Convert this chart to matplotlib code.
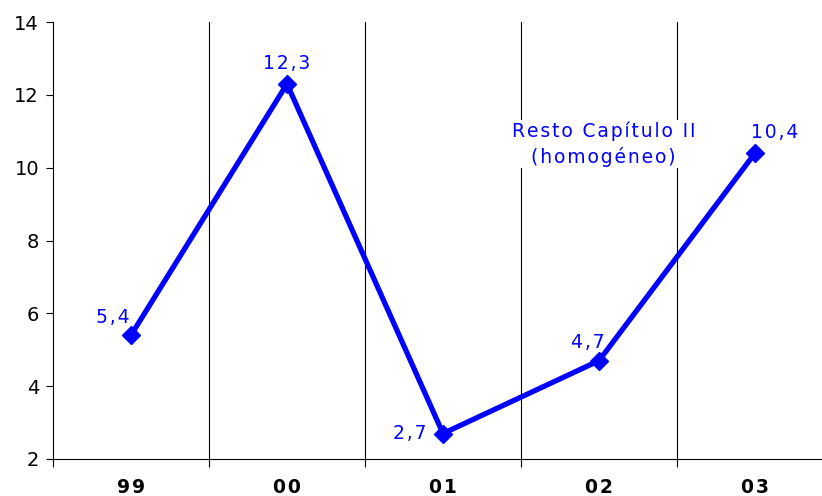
import matplotlib.pyplot as plt

years = ["99", "00", "01", "02", "03"]
values = [5.4, 12.3, 2.7, 4.7, 10.4]
value_labels = ["5,4", "12,3", "2,7", "4,7", "10,4"]
label_offsets = [(-13, 13), (0, 15), (-24, 0), (-8, 13), (14, 15)]
note = ["Resto Capítulo II", "(homogéneo)"]

blue = "#0000FF"
plt.rcParams["font.family"] = ["DejaVu Sans"]


def spaced(s):
    # the original font has wide letter spacing; fake it with hair spaces
    return "\u200a".join(s)


fig = plt.figure(figsize=(8.22, 4.96), dpi=100)
ax = fig.add_axes([53 / 822, 37 / 496, 1 - 53 / 822, 437 / 496])

xs = list(range(len(years)))
ax.plot(xs, values, color=blue, lw=3.8, marker="D", ms=9, zorder=3, clip_on=False)

for x, v, lab, off in zip(xs, values, value_labels, label_offsets):
    ax.annotate(spaced(lab), (x, v), xytext=off, textcoords="offset points",
                ha="center", va="center", color=blue, fontsize=13.5)

# vertical lines between the years
for b in [0.5, 1.5, 2.5, 3.5]:
    ax.axvline(b, color="black", lw=0.8, zorder=1)

ax.text(3.03, 10.65, "\n".join(spaced(s) for s in note), ha="center", va="center",
        color=blue, fontsize=13.5, linespacing=1.4, zorder=2,
        bbox=dict(facecolor="white", edgecolor="none", pad=1))

ax.set_xlim(-0.5, -0.5 + (822 - 53) / 156)
ax.set_ylim(2, 14)
ax.set_yticks([2, 4, 6, 8, 10, 12, 14])
ax.set_xticks(xs)
ax.set_xticklabels([spaced(y) for y in years], fontweight="bold", fontsize=13.5)
ax.set_xticks([-0.5, 0.5, 1.5, 2.5, 3.5], minor=True)
ax.tick_params(axis="x", which="major", length=0, pad=14)
ax.tick_params(axis="x", which="minor", length=6, width=0.8, direction="out")
ax.tick_params(axis="y", labelsize=14, length=5, width=0.8, direction="out", pad=5)

ax.spines["top"].set_visible(False)
ax.spines["right"].set_visible(False)
ax.spines["left"].set_linewidth(0.8)
ax.spines["bottom"].set_linewidth(0.8)

fig.savefig("out.png", dpi=100)
